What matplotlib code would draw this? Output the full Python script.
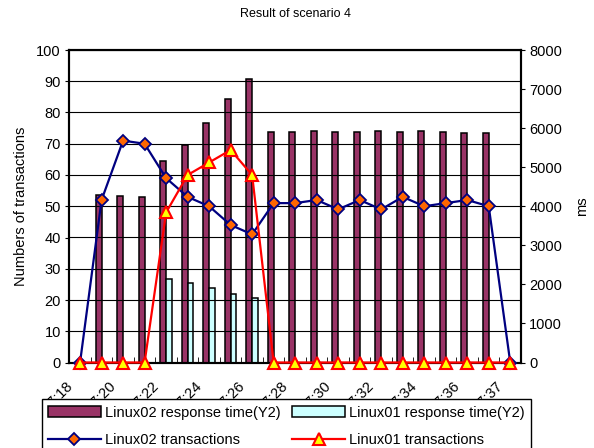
import numpy as np
import matplotlib
matplotlib.use('Agg')
import matplotlib.pyplot as plt
from matplotlib.ticker import MultipleLocator
from matplotlib.transforms import ScaledTranslation

plt.rcParams['font.family'] = ['Liberation Sans', 'DejaVu Sans']

nan = np.nan
tick_labels = ['17:18', '17:20', '17:22', '17:24', '17:26', '17:28',
               '17:30', '17:32', '17:34', '17:36', '17:37']
linux02_resp = [nan, 4280, 4264, 4240, 5152, 5576, 6128, 6752, 7248, 5888, 5912,
                5936, 5912, 5904, 5936, 5904, 5928, 5896, 5872, 5864, nan]
linux01_resp = [nan, nan, nan, nan, 2128, 2043, 1898, 1762, 1660, nan, nan,
                nan, nan, nan, nan, nan, nan, nan, nan, nan, nan]
linux02_tx = [0, 52, 71, 70, 59, 53, 50, 44, 41, 51, 51, 52, 49, 52, 49, 53, 50, 51, 52, 50, 0]
linux01_tx = [0, 0, 0, 0, 48, 60, 64, 68, 60, 0, 0, 0, 0, 0, 0, 0, 0, 0, 0, 0, 0]

W, H = 594, 448
fig = plt.figure(figsize=(W / 100, H / 100), dpi=100)
L, R, T, B = 69.3, 521, 50, 362.5
ax = fig.add_axes([L / W, 1 - B / H, (R - L) / W, (B - T) / H])
ax2 = ax.twinx()
ax.set_zorder(ax2.get_zorder() + 1)
ax.patch.set_visible(False)

x = np.arange(len(linux02_tx))
bw = 0.27
r02 = np.array(linux02_resp, float)
r01 = np.array(linux01_resp, float)
m02 = ~np.isnan(r02)
m01 = ~np.isnan(r01)
b02 = ax2.bar(x[m02] - bw / 2, r02[m02], width=bw, color='#993366', edgecolor='black', linewidth=1.1,
              label='Linux02 response time(Y2)')
b01 = ax2.bar(x[m01] + bw / 2, r01[m01], width=bw, color='#CCFFFF', edgecolor='black', linewidth=1.1,
              label='Linux01 response time(Y2)')

l02, = ax.plot(x, linux02_tx, color='#000080', lw=1.6, marker='D', ms=6.5,
               markerfacecolor='#FF6600', markeredgecolor='#000080', markeredgewidth=1.3,
               clip_on=False, zorder=3, label='Linux02 transactions')
l01, = ax.plot(x, linux01_tx, color='#FF0000', lw=1.6, marker='^', ms=8.5,
               markerfacecolor='#FFFF00', markeredgecolor='#FF0000', markeredgewidth=1.5,
               clip_on=False, zorder=4, label='Linux01 transactions')

ax.set_xlim(-0.5, len(x) - 0.5)
ax.set_ylim(0, 100)
ax2.set_ylim(0, 8000)

# grid behind bars (on the right axis, aligned with left ticks)
ax2.yaxis.set_minor_locator(MultipleLocator(800))
ax2.yaxis.remove_overlapping_locs = False
ax2.grid(axis='y', which='minor', color='black', lw=0.8)
ax2.tick_params(axis='y', which='minor', length=0)
ax2.yaxis.set_major_locator(MultipleLocator(1000))
ax2.tick_params(axis='y', which='major', direction='out', length=3, labelsize=10.5, pad=3)

ax.yaxis.set_major_locator(MultipleLocator(10))
ax.tick_params(axis='y', direction='out', length=3, labelsize=10.5, pad=3)

ax.set_xticks(x[::2], tick_labels)
ax.set_xticks(np.arange(-0.5, len(x), 1), minor=True)
ax.tick_params(axis='x', which='major', length=0, labelsize=10.5, pad=0)
ax.tick_params(axis='x', which='minor', direction='in', length=4)
off = ScaledTranslation(-9 / 100, -21 / 100, fig.dpi_scale_trans)
for lab in ax.get_xticklabels():
    lab.set_rotation(45)
    lab.set_ha('right')
    lab.set_va('center')
    lab.set_rotation_mode('anchor')
    lab.set_transform(lab.get_transform() + off)

for a in (ax, ax2):
    for s in a.spines.values():
        s.set_linewidth(1.5)
        s.set_color('black')

ax.set_ylabel('Numbers of transactions', fontsize=10.5, labelpad=6)
ax2.set_ylabel('ms', fontsize=10.5, labelpad=9)

fig.text(296 / W, 1 - 14 / H, 'Result of scenario 4', ha='center', va='center', fontsize=9)

leg = fig.legend([b02, l02, b01, l01],
                 ['Linux02 response time(Y2)', 'Linux02 transactions',
                  'Linux01 response time(Y2)', 'Linux01 transactions'],
                 ncol=2, loc='upper center', bbox_to_anchor=((43 + 530) / 2 / W, 1 - 399 / H),
                 fontsize=10.5, frameon=True, fancybox=False, framealpha=1,
                 edgecolor='black', handlelength=3.6, handletextpad=0.3,
                 columnspacing=0.8, labelspacing=0.95, borderpad=0.45, borderaxespad=0)
leg.get_frame().set_linewidth(1.0)

fig.savefig('out.png', dpi=100)
